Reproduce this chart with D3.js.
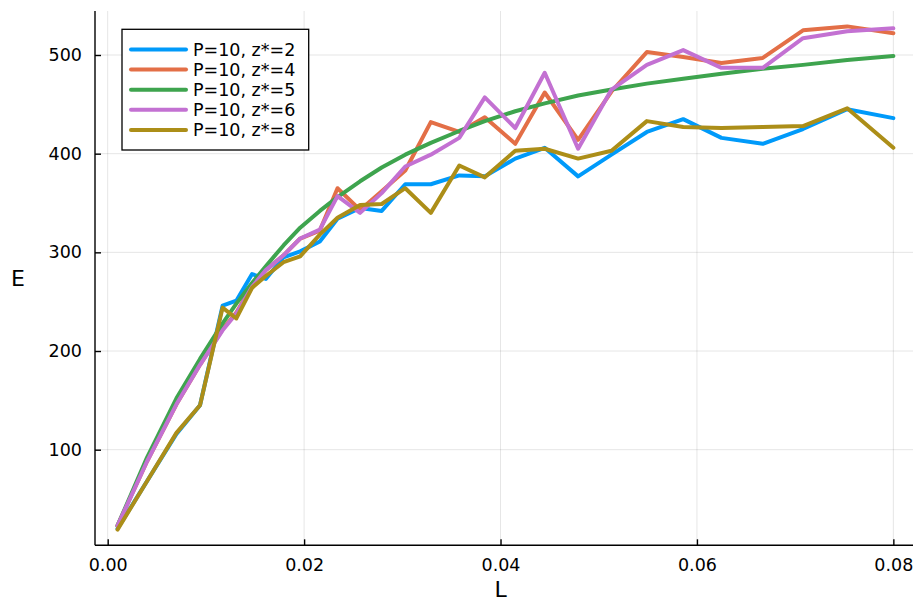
<!DOCTYPE html>
<html>
<head>
<meta charset="utf-8">
<script src="https://cdn.jsdelivr.net/npm/d3@7"></script>
<style>
  html, body { margin: 0; padding: 0; background: #ffffff; }
  svg { display: block; font-family: "DejaVu Sans", sans-serif; }
</style>
</head>
<body>
<svg id="chart" width="913" height="601"></svg>
<script>
// Sample positions (L) shared by every run
const L = [0.001, 0.0040, 0.0070, 0.0094, 0.0117, 0.0131, 0.0147, 0.0161, 0.0179, 0.0196,
           0.0216, 0.0234, 0.0257, 0.0279, 0.0303, 0.0329, 0.0358, 0.0384, 0.0415, 0.0445,
           0.0479, 0.0513, 0.0549, 0.0586, 0.0625, 0.0667, 0.0708, 0.0753, 0.0800];

// E for each z* value
const E_z2 = [20, 68, 116, 145, 246, 251, 278, 273, 295, 301,
              311, 334, 345, 342, 369, 369, 378, 377, 395, 406,
              377, 399, 422, 435, 416, 410, 425, 445, 436];
const E_z4 = [23, 88, 146, 186, 222, 239, 266, 282, 297, 314,
              322, 365, 343, 362, 383, 432, 422, 437, 410, 462,
              414, 463, 503, 498, 492, 497, 525, 529, 522];
const E_z5 = [23, 92, 152, 192, 228, 248, 269, 286, 307, 325,
              342, 356, 372, 386, 399, 411, 423, 433, 443, 451,
              459, 465, 471, 476, 481, 486, 490, 495, 499];
const E_z6 = [23, 88, 146, 186, 221, 238, 265, 282, 297, 314,
              323, 357, 340, 360, 387, 399, 416, 457, 426, 482,
              405, 465, 490, 505, 487, 487, 517, 524, 527];
const E_z8 = [19, 68, 117, 145, 244, 233, 264, 276, 290, 296,
              318, 335, 348, 349, 365, 340, 388, 376, 403, 405,
              395, 403, 433, 427, 426, 427, 428, 446, 406];

const seriesNames = ["P=10, z*=2", "P=10, z*=4", "P=10, z*=5", "P=10, z*=6", "P=10, z*=8"];
const seriesColors = ["#009AFA", "#E36F47", "#3EA44E", "#C371D2", "#AC8E18"];
const xTicks = [0.00, 0.02, 0.04, 0.06, 0.08];
const yTicks = [100, 200, 300, 400, 500];

const series = [E_z2, E_z4, E_z5, E_z6, E_z8].map((vals, i) => ({
  name: seriesNames[i],
  color: seriesColors[i],
  points: L.map((l, j) => ({ l, e: vals[j] }))
}));

const svg = d3.select("#chart");
const plot = { left: 95, right: 913, top: 11, bottom: 545.3 };

const x = d3.scaleLinear().domain([-0.001293, 0.0820]).range([plot.left, plot.right]);
const y = d3.scaleLinear().domain([3.1, 544.6]).range([plot.bottom, plot.top]);

// grid
const grid = svg.append("g").attr("stroke", "#000").attr("stroke-opacity", 0.1).attr("stroke-width", 1);
xTicks.forEach(t => grid.append("line")
  .attr("x1", x(t)).attr("x2", x(t)).attr("y1", plot.top).attr("y2", plot.bottom));
yTicks.forEach(t => grid.append("line")
  .attr("x1", plot.left).attr("x2", plot.right).attr("y1", y(t)).attr("y2", y(t)));

// axes (ticks point into the plot area)
const xAxis = d3.axisBottom(x).tickValues(xTicks).tickFormat(d3.format(".2f"))
  .tickSizeInner(-6).tickSizeOuter(0).tickPadding(13);
const yAxis = d3.axisLeft(y).tickValues(yTicks).tickFormat(d3.format("d"))
  .tickSizeInner(-6).tickSizeOuter(0).tickPadding(13);

const gx = svg.append("g").attr("transform", `translate(0,${plot.bottom})`).call(xAxis);
const gy = svg.append("g").attr("transform", `translate(${plot.left},0)`).call(yAxis);
[gx, gy].forEach(g => {
  g.select(".domain").attr("stroke", "#000").attr("stroke-width", 1.4);
  g.selectAll(".tick line").attr("stroke", "#000").attr("stroke-width", 1.4);
  g.selectAll(".tick text").attr("fill", "#000")
    .style("font-family", "'DejaVu Sans', sans-serif").style("font-size", "17.5px");
});
gx.select(".domain").attr("d", `M${plot.left},0H${plot.right}`);
gy.select(".domain").attr("d", `M0,${plot.top}V${plot.bottom}`);

// axis titles
svg.append("text").attr("x", x(0.04)).attr("y", 589)
  .attr("text-anchor", "middle").attr("dominant-baseline", "central")
  .style("font-size", "22px").text("L");
svg.append("text").attr("x", 18).attr("y", (plot.top + plot.bottom) / 2)
  .attr("text-anchor", "middle").attr("dominant-baseline", "central")
  .style("font-size", "22px").text("E");

// lines
const line = d3.line().x(d => x(d.l)).y(d => y(d.e));
svg.append("clipPath").attr("id", "plotclip").append("rect")
  .attr("x", plot.left).attr("y", plot.top)
  .attr("width", plot.right - plot.left).attr("height", plot.bottom - plot.top);
svg.append("g").attr("clip-path", "url(#plotclip)")
  .selectAll("path").data(series).join("path")
  .attr("d", d => line(d.points))
  .attr("fill", "none")
  .attr("stroke", d => d.color)
  .attr("stroke-width", 4)
  .attr("stroke-linejoin", "round")
  .attr("stroke-linecap", "round");

// legend
const lg = svg.append("g");
lg.append("rect").attr("x", 122).attr("y", 29.3).attr("width", 186.7).attr("height", 120.7)
  .attr("fill", "#fff").attr("stroke", "#000").attr("stroke-width", 1.3);
series.forEach((s, i) => {
  const cy = 49.5 + i * 20.1;
  lg.append("line").attr("x1", 131).attr("x2", 186).attr("y1", cy).attr("y2", cy)
    .attr("stroke", s.color).attr("stroke-width", 4).attr("stroke-linecap", "round");
  lg.append("text").attr("x", 193).attr("y", cy).attr("dominant-baseline", "central")
    .style("font-size", "17.5px").text(s.name);
});
</script>
</body>
</html>
